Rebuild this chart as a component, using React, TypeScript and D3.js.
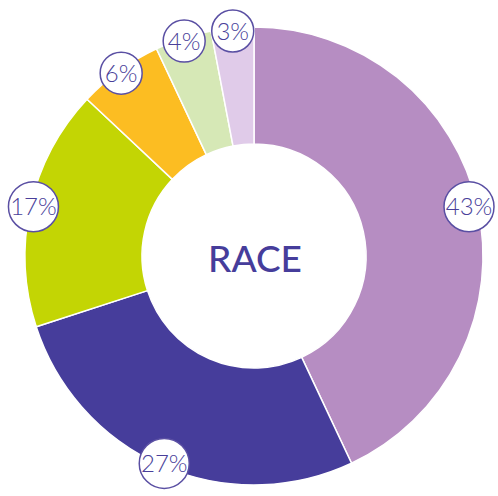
import React, { useEffect, useRef } from "react";
import * as d3 from "d3";

const categories = ["A", "B", "C", "D", "E", "F"];
const values = [43, 27, 17, 6, 4, 3];
const labels = ["43%", "27%", "17%", "6%", "4%", "3%"];
const colors = ["#b68dc2", "#463d9b", "#c3d504", "#fcbd22", "#d6e8b6", "#e0cbe9"];
const title = "RACE";

const App = () => {
  const svgRef = useRef<SVGSVGElement>(null);

  useEffect(() => {
    const width = 498;
    const height = 496;
    const cx = 254;
    const cy = 256;
    const outer = 229;
    const inner = 112;
    const labelR = 226;

    const svg = d3
      .select(svgRef.current)
      .attr("width", width)
      .attr("height", height)
      .style("position", "absolute")
      .style("left", 0)
      .style("top", 0)
      .style("background", "#fff");

    svg.selectAll("*").remove();

    const data = categories.map((c, i) => ({ key: c, value: values[i], label: labels[i], color: colors[i] }));

    const pie = d3
      .pie<any>()
      .sort(null)
      .value((d) => d.value);

    const arc = d3.arc<any>().innerRadius(inner).outerRadius(outer);
    const arcs = pie(data);

    const g = svg.append("g").attr("transform", `translate(${cx},${cy})`);

    g.selectAll("path")
      .data(arcs)
      .join("path")
      .attr("d", arc)
      .attr("fill", (d) => d.data.color)
      .attr("stroke", "#fff")
      .attr("stroke-width", 1.5);

    const circR = (d: any) => (d.data.label.length > 2 ? 25 : 21);

    const lab = g
      .selectAll("g.lab")
      .data(arcs)
      .join("g")
      .attr("class", "lab")
      .attr("transform", (d) => {
        const a = (d.startAngle + d.endAngle) / 2;
        // keep the badge inside the picture
        const maxX = width - cx - circR(d) - 4;
        const x = Math.min(labelR * Math.sin(a), maxX);
        return `translate(${x},${-labelR * Math.cos(a)})`;
      });

    lab
      .append("circle")
      .attr("r", circR)
      .attr("fill", "#fff")
      .attr("stroke", "#5a4fa3")
      .attr("stroke-width", 1.5);

    lab
      .append("text")
      .attr("text-anchor", "middle")
      .attr("dy", "0.36em")
      .style("font-family", "Lato, sans-serif")
      .style("font-weight", 300)
      .style("font-size", "24px")
      .style("fill", "#4a3f9a")
      .text((d) => d.data.label);

    g.append("text")
      .attr("text-anchor", "middle")
      .attr("x", 1)
      .attr("y", 3)
      .attr("dy", "0.36em")
      .style("font-family", "Lato, sans-serif")
      .style("font-weight", 500)
      .style("font-size", "37px")
      .style("fill", "#463d9b")
      .text(title);
  }, []);

  return <svg ref={svgRef}></svg>;
};

export default App;
